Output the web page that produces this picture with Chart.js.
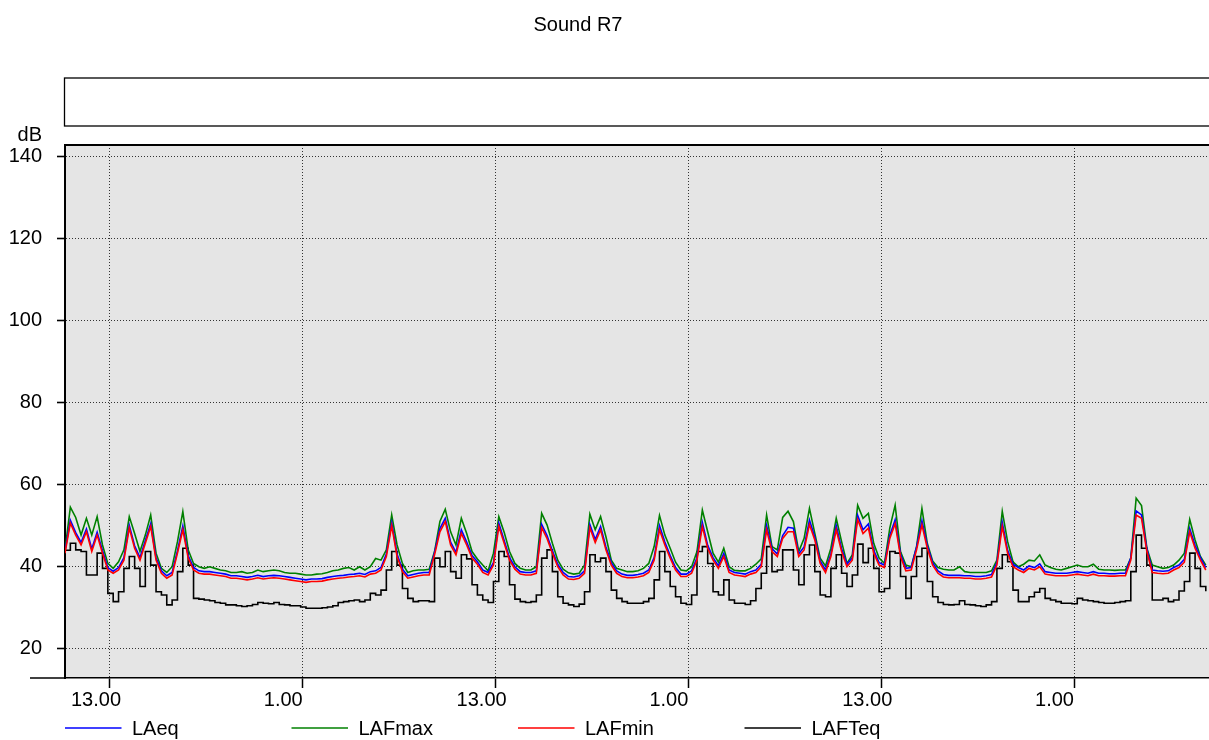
<!DOCTYPE html>
<html>
<head>
<meta charset="utf-8">
<script src="https://cdn.jsdelivr.net/npm/chart.js@4/dist/chart.umd.min.js"></script>
<style>
  html, body { margin: 0; padding: 0; background: #fff; }
  canvas { display: block; }
</style>
</head>
<body>
<canvas id="soundChart" width="1209" height="740"></canvas>
<script>
// one sample every 20 minutes, first sample at 10:12 on day 1
const startHour = 10.2;
const stepHours = 1 / 3;

const tickHours = [13, 25, 37, 49, 61, 73];
const yTicks = [20, 40, 60, 80, 100, 120, 140];

const laeq = [
  43.8, 51.3, 48.3, 45.9, 49.2, 44.3, 48.4, 43.9, 39.8, 38.9, 39.8, 42.2, 50.1, 45.1, 42.2, 46.4, 50.5, 42.2, 39.0, 37.8,
  38.6, 43.9, 49.9, 42.7, 39.8, 39.0, 38.8, 38.8, 38.6, 38.4, 38.2, 37.8, 37.8, 37.6, 37.4, 37.6, 37.9,
  37.6, 37.8, 37.9, 37.8, 37.6, 37.4, 37.2, 37.0, 36.8, 37.0, 37.0, 37.1, 37.4, 37.6, 37.8, 37.9, 38.1, 38.2, 38.4, 38.1,
  38.8, 39.0, 39.8, 43.1, 50.7, 43.1, 39.4, 37.8, 38.1, 38.4, 38.6, 38.6, 43.5,
  49.3, 51.8, 46.0, 43.5, 49.0, 46.0, 42.7, 41.2, 39.2, 38.6, 41.0, 50.6, 46.4, 42.2, 40.0, 38.8, 38.6, 38.6, 39.0, 50.3,
  47.6, 43.9, 40.6, 38.6, 37.6, 37.5, 37.8, 39.0, 50.3, 46.6, 49.8, 44.8, 41.0, 39.0, 38.2, 37.9, 37.9, 38.1,
  38.4, 39.2, 42.2, 50.0, 46.0, 42.7, 39.8, 38.2, 38.2, 39.0, 42.2, 50.8, 45.2, 42.2, 40.2, 43.2, 39.2, 38.6, 38.4, 38.2,
  38.8, 39.2, 40.6, 50.0, 44.4, 43.1, 47.6, 49.6, 49.4, 43.1, 44.8, 51.4, 47.2, 41.4, 39.2,
  43.1, 50.0, 44.4, 40.6, 42.2, 52.5, 49.0, 50.4, 44.0, 41.0, 40.4, 47.6, 51.4, 43.1, 39.6, 39.8, 44.8, 51.2, 45.2, 41.0,
  39.0, 38.1, 37.9, 37.9, 37.9, 37.8, 37.8, 37.6, 37.6, 37.8, 38.1, 41.0, 50.8, 44.0, 40.6, 39.8,
  39.2, 40.2, 39.8, 40.7, 38.8, 38.6, 38.4, 38.4, 38.4, 38.6, 38.8, 38.6, 38.4, 38.8, 38.4, 38.4, 38.3, 38.3, 38.4, 38.4,
  42.2, 53.6, 52.6, 44.3, 39.2, 39.0, 38.9, 39.0, 39.8, 40.4, 41.8, 49.3, 45.2, 42.2, 39.8
];

const lafmax = [
  44.0, 54.5, 52.0, 47.7, 51.8, 47.7, 52.2, 45.3, 40.8, 39.6, 41.2, 44.1, 52.2, 48.1, 43.7, 47.7, 52.6, 43.3, 39.6, 38.6,
  40.0, 46.1, 53.4, 44.1, 40.8, 40.0, 39.6, 40.0, 39.6, 39.2, 39.0, 38.6, 38.6, 38.8, 38.4, 38.6, 39.2,
  38.8, 39.0, 39.2, 39.0, 38.6, 38.4, 38.4, 38.2, 38.0, 38.0, 38.2, 38.3, 38.6, 39.0, 39.2, 39.6, 39.8, 39.2, 40.0, 39.2,
  40.0, 42.0, 41.6, 44.1, 52.6, 45.3, 40.8, 38.6, 39.0, 39.2, 39.2, 39.4, 43.7,
  51.0, 54.0, 48.5, 45.3, 51.8, 48.1, 43.7, 41.9, 40.4, 39.0, 43.3, 52.2, 48.4, 43.7, 40.8, 39.6, 39.2, 39.2, 40.0, 53.0,
  50.2, 45.7, 41.6, 39.4, 38.5, 38.2, 38.4, 40.4, 52.8, 49.0, 52.2, 47.3, 41.6, 39.6, 39.2, 38.8, 38.8, 39.0,
  39.6, 40.8, 44.9, 52.5, 47.7, 44.5, 41.1, 39.2, 39.0, 40.0, 43.7, 53.8, 48.5, 43.3, 41.1, 44.5, 40.0, 39.1, 39.0, 39.0,
  39.6, 40.6, 41.9, 52.6, 44.9, 44.1, 52.0, 53.5, 51.0, 43.7, 46.9, 54.2, 48.1, 42.1, 40.2,
  44.5, 51.8, 46.1, 40.8, 42.9, 55.0, 51.8, 53.0, 45.7, 42.1, 40.8, 49.4, 55.0, 43.7, 40.4, 40.0, 44.9, 54.2, 45.7, 41.4,
  39.8, 39.4, 39.2, 39.2, 40.0, 38.8, 38.6, 38.6, 38.6, 38.6, 39.0, 41.6, 53.5, 46.1, 41.2, 40.0,
  40.6, 41.6, 41.4, 42.9, 40.4, 39.8, 39.4, 39.2, 39.6, 40.0, 40.4, 40.0, 40.0, 40.6, 39.4, 39.2, 39.2, 39.1, 39.2, 39.2,
  42.1, 56.7, 54.9, 44.5, 40.4, 40.0, 39.6, 39.8, 40.4, 41.6, 43.3, 51.5, 46.5, 42.5, 40.4
];

const lafmin = [
  43.3, 50.6, 47.7, 45.3, 48.5, 43.7, 47.7, 43.3, 39.2, 38.4, 39.2, 41.6, 49.4, 44.5, 41.6, 45.7, 49.8, 41.6, 38.4, 37.2,
  38.0, 43.3, 49.0, 42.1, 39.2, 38.4, 38.2, 38.2, 38.0, 37.8, 37.6, 37.2, 37.2, 37.0, 36.8, 37.0, 37.3,
  37.0, 37.2, 37.3, 37.2, 37.0, 36.8, 36.6, 36.4, 36.2, 36.4, 36.4, 36.5, 36.8, 37.0, 37.2, 37.3, 37.5, 37.6, 37.8, 37.5,
  38.2, 38.4, 39.2, 42.5, 50.0, 42.5, 38.8, 37.2, 37.5, 37.8, 38.0, 38.0, 42.9,
  48.5, 51.0, 45.3, 42.9, 48.1, 45.3, 42.1, 40.6, 38.6, 38.0, 40.4, 49.8, 45.7, 41.6, 39.4, 38.2, 38.0, 38.0, 38.4, 49.5,
  46.9, 43.3, 40.0, 38.0, 37.0, 36.9, 37.2, 38.4, 49.5, 45.9, 49.0, 44.1, 40.4, 38.4, 37.6, 37.3, 37.3, 37.5,
  37.8, 38.6, 41.6, 49.0, 45.3, 42.1, 39.2, 37.6, 37.6, 38.4, 41.6, 49.8, 44.5, 41.6, 39.6, 42.5, 38.6, 38.0, 37.8, 37.6,
  38.2, 38.6, 40.0, 49.0, 43.7, 42.5, 46.9, 48.5, 48.5, 42.5, 44.1, 50.3, 46.5, 40.8, 38.6,
  42.5, 49.0, 43.7, 40.0, 41.6, 51.5, 48.1, 49.4, 43.3, 40.4, 39.8, 46.9, 50.5, 42.5, 39.0, 39.2, 44.1, 50.2, 44.5, 40.4,
  38.4, 37.5, 37.3, 37.3, 37.3, 37.2, 37.2, 37.0, 37.0, 37.2, 37.5, 40.4, 49.8, 43.3, 40.0, 39.2,
  38.6, 39.6, 39.2, 40.0, 38.2, 38.0, 37.8, 37.8, 37.8, 38.0, 38.2, 38.0, 37.8, 38.2, 37.8, 37.8, 37.7, 37.7, 37.8, 37.8,
  41.6, 52.6, 51.8, 43.7, 38.6, 38.4, 38.3, 38.4, 39.2, 39.8, 41.1, 48.5, 44.5, 41.6, 39.2
];

const lafteq = [
  44.0, 45.7, 44.1, 43.7, 38.0, 38.0, 43.3, 39.6, 33.5, 31.5, 33.9, 39.6, 42.5, 39.6, 35.2, 43.7, 40.4, 33.9, 33.1, 30.7,
  31.9, 38.8, 44.5, 40.4, 32.3, 32.1, 31.9, 31.7, 31.3, 31.1, 30.7, 30.7, 30.5, 30.3, 30.5, 30.8, 31.3,
  31.1, 31.0, 31.3, 30.8, 30.7, 30.5, 30.5, 30.2, 29.9, 29.9, 29.9, 30.0, 30.2, 30.5, 31.3, 31.5, 31.7, 31.9, 31.5, 31.9,
  33.5, 33.1, 34.3, 39.2, 43.7, 40.4, 34.7, 32.3, 31.5, 31.7, 31.7, 31.5, 42.1,
  40.0, 43.7, 38.8, 37.2, 42.9, 41.9, 35.6, 33.1, 31.9, 31.3, 36.4, 43.7, 42.5, 35.6, 32.1, 31.5, 31.3, 31.5, 33.1, 42.1,
  44.1, 38.8, 32.7, 31.1, 30.7, 30.3, 30.9, 33.9, 42.9, 41.2, 42.1, 38.8, 34.3, 32.3, 31.5, 31.1, 31.1, 31.1,
  31.5, 32.3, 36.8, 43.7, 38.8, 35.2, 32.7, 31.1, 30.8, 33.1, 43.7, 44.9, 40.8, 33.9, 33.1, 36.8, 31.9, 31.1, 31.1, 30.8,
  31.7, 34.7, 38.4, 44.9, 38.8, 39.2, 44.1, 44.1, 39.2, 35.6, 42.9, 45.3, 38.8, 33.1, 32.7,
  39.6, 42.9, 38.4, 35.2, 38.0, 45.5, 41.0, 44.5, 39.6, 33.9, 34.7, 43.7, 43.3, 37.6, 32.3, 37.6, 42.5, 44.5, 36.4, 32.7,
  31.3, 30.8, 30.7, 30.8, 31.7, 30.8, 30.7, 30.5, 30.3, 30.7, 31.5, 39.6, 42.9, 41.2, 34.3, 31.5,
  31.5, 32.7, 33.8, 34.7, 32.3, 31.9, 31.5, 31.1, 31.1, 31.0, 32.3, 31.9, 31.7, 31.5, 31.3, 31.1, 31.1, 31.3, 31.5, 31.7,
  38.8, 47.7, 44.5, 40.4, 31.9, 31.9, 32.3, 31.5, 31.9, 34.1, 36.4, 43.3, 39.6, 35.2, 34.0
];

const FONT = '"Liberation Sans", Arial, Helvetica, sans-serif';
Chart.defaults.font.family = FONT;
Chart.defaults.font.size = 20;
Chart.defaults.color = '#000';

const toPoints = arr => arr.map((v, i) => ({ x: startHour + i * stepHours, y: v }));

// title, empty box above the plot, dB label, borders and the legend row
const decor = {
  id: 'decor',
  beforeDraw(chart) {
    const { ctx, chartArea: a } = chart;
    ctx.save();
    ctx.fillStyle = '#fff';
    ctx.fillRect(0, 0, chart.width, chart.height);
    ctx.fillStyle = '#e5e5e5';
    ctx.fillRect(a.left, a.top, a.right - a.left, a.bottom - a.top);
    ctx.restore();
  },
  afterDraw(chart) {
    const { ctx, chartArea: a } = chart;
    ctx.save();
    ctx.fillStyle = '#000';
    ctx.font = '20px ' + FONT;
    ctx.textBaseline = 'middle';
    ctx.textAlign = 'center';
    ctx.fillText('Sound R7', 578, 25);

    ctx.strokeStyle = '#000';
    ctx.lineWidth = 1.3;
    ctx.strokeRect(64.5, 78, 1200, 48);

    ctx.textAlign = 'right';
    ctx.fillText('dB', 42, 135);

    ctx.lineWidth = 2;
    ctx.beginPath();
    ctx.moveTo(a.left - 1, a.top);
    ctx.lineTo(a.right, a.top);
    ctx.stroke();

    ctx.lineWidth = 1.5;
    ctx.beginPath();
    ctx.moveTo(30, a.bottom);
    ctx.lineTo(a.left, a.bottom);
    ctx.stroke();

    ctx.textAlign = 'left';
    chart.data.datasets.forEach((ds, i) => {
      const x0 = 65 + i * 226.5;
      ctx.strokeStyle = ds.borderColor;
      ctx.lineWidth = 1.5;
      ctx.beginPath();
      ctx.moveTo(x0, 728);
      ctx.lineTo(x0 + 56.5, 728);
      ctx.stroke();
      ctx.fillStyle = '#000';
      ctx.fillText(ds.label, x0 + 67, 729);
    });
    ctx.restore();
  }
};

const ctx = document.getElementById('soundChart').getContext('2d');
new Chart(ctx, {
  type: 'line',
  data: {
    datasets: [
      { label: 'LAeq', data: toPoints(laeq), borderColor: '#0000ff', order: 1 },
      { label: 'LAFmax', data: toPoints(lafmax), borderColor: '#008000', order: 2 },
      { label: 'LAFmin', data: toPoints(lafmin), borderColor: '#ff0000', order: 0 },
      { label: 'LAFTeq', data: toPoints(lafteq), borderColor: '#000000', order: 3, stepped: true },
    ],
  },
  options: {
    responsive: false,
    animation: false,
    layout: { padding: { top: 145, left: 0, right: 0, bottom: 0 } },
    elements: {
      line: { borderWidth: 1.6, tension: 0, fill: false },
      point: { radius: 0 },
    },
    plugins: {
      legend: { display: false },
      title: { display: false },
      tooltip: { enabled: false },
    },
    scales: {
      x: {
        type: 'linear',
        min: 10.2,
        max: 81.4,
        afterBuildTicks: s => { s.ticks = tickHours.map(v => ({ value: v })); },
        afterFit: s => { s.height = 62; },
        ticks: {
          autoSkip: false,
          maxRotation: 0,
          align: 'start',
          labelOffset: -39,
          padding: 0,
          callback: v => `${v % 24}.00`,
        },
        grid: { color: '#333', lineWidth: 1, tickLength: 10, tickColor: '#000', tickWidth: 1.5, tickBorderDash: [] },
        border: { color: '#000', width: 1.5, dash: [1, 2] },
      },
      y: {
        min: 12.9,
        max: 142.7,
        afterBuildTicks: s => { s.ticks = yTicks.map(v => ({ value: v })); },
        afterFit: s => { s.width = 65; },
        ticks: { padding: 15 },
        grid: { color: '#333', lineWidth: 1, tickLength: 8, tickColor: '#000', tickWidth: 1.6, tickBorderDash: [] },
        border: { color: '#000', width: 2, dash: [1, 2] },
      },
    },
  },
  plugins: [decor],
});
</script>
</body>
</html>
